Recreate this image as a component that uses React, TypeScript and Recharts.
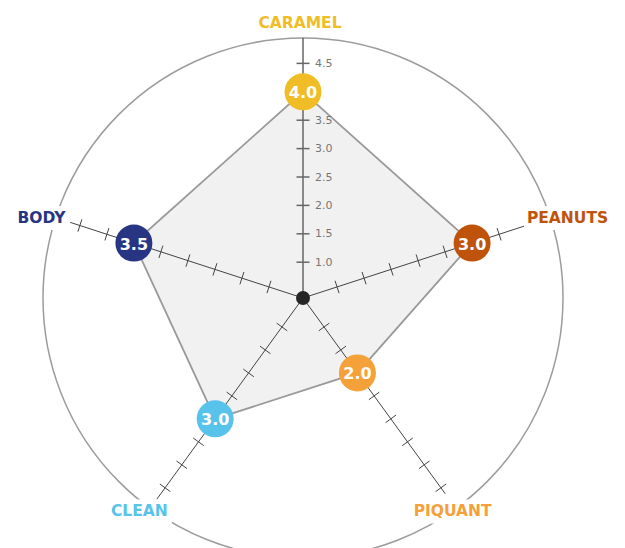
import React from "react";
import {
  RadarChart,
  Radar,
  PolarGrid,
  PolarAngleAxis,
  PolarRadiusAxis,
} from "recharts";

// flavour profile, clockwise from the top
const flavors = ["CARAMEL", "PEANUTS", "PIQUANT", "CLEAN", "BODY"];
const scores = [4.0, 3.5, 2.0, 3.0, 3.5];
const scoreLabels = ["4.0", "3.0", "2.0", "3.0", "3.5"];
const scaleTicks = [1.0, 1.5, 2.0, 2.5, 3.0, 3.5, 4.0, 4.5];

const flavorColors: Record<string, string> = {
  CARAMEL: "#F0BD27",
  PEANUTS: "#C0530B",
  PIQUANT: "#F5A139",
  CLEAN: "#58C3EA",
  BODY: "#283583",
};

const W = 625;
const H = 548;
const CX = 303;
const CY = 298;
const RIM = 260;
// the score scale doesn't start at the hub: 0 sits 21px "behind" the centre
const INNER = -21;
const OUTER = 263;
const DOMAIN: [number, number] = [0, 5];
const HUB = 0.37; // score value at the centre point
// where each spoke stops (score units)
const spokeEnds = [4.95, 4.5, 4.63, 4.75, 4.68];
// small hand nudges for the rim labels
const labelNudge: Record<string, [number, number]> = {
  CARAMEL: [-3, 0],
  PEANUTS: [3, 5],
  PIQUANT: [-12, -9],
  CLEAN: [-2, -9],
  BODY: [0, 5],
};

const FONT = "'DejaVu Sans', sans-serif";
const RAD = Math.PI / 180;

const data = flavors.map((f, i) => ({ flavor: f, score: scores[i], label: scoreLabels[i] }));

function spokeTick(p: any, angle: number, main: boolean, end: number) {
  const v = p.payload?.value;
  const { x, y } = p;
  if (v === HUB) {
    return main ? <circle cx={x} cy={y} r={7} fill="#262626" /> : <g />;
  }
  if (v === end) return <g />;
  const s = Math.sin(angle * RAD) * 6.5;
  const c = Math.cos(angle * RAD) * 6.5;
  // the 4.0 label is hidden under the caramel marker
  const showText = main && v !== scores[0];
  return (
    <g>
      <line
        x1={x - s}
        y1={y - c}
        x2={x + s}
        y2={y + c}
        stroke={main ? "#666" : "#444"}
        strokeWidth={main ? 1.5 : 1}
      />
      {showText && (
        <text
          x={x + 12}
          y={y}
          dominantBaseline="central"
          fontFamily={FONT}
          fontSize={11}
          fill="#777"
        >
          {v.toFixed(1)}
        </text>
      )}
    </g>
  );
}

function RimLabel(p: any) {
  const name: string = p.payload?.value;
  const a: number = p.payload?.coordinate ?? 90;
  const [nx, ny] = labelNudge[name] ?? [0, 0];
  const x = CX + 275 * Math.cos(a * RAD) + nx;
  const y = CY - 275 * Math.sin(a * RAD) + ny;
  const w = name.length * 11 + 10;
  return (
    <g>
      <rect x={x - w / 2} y={y - 12} width={w} height={24} fill="#fff" />
      <text
        x={x}
        y={y}
        textAnchor="middle"
        dominantBaseline="central"
        fontFamily={FONT}
        fontWeight="bold"
        fontSize={15.5}
        fill={flavorColors[name]}
      >
        {name}
      </text>
    </g>
  );
}

function ScoreDot(p: any) {
  const i: number = p.index;
  const name = flavors[i];
  return (
    <g key={`dot-${i}`}>
      <circle cx={p.cx} cy={p.cy} r={18.5} fill={flavorColors[name]} />
      <text
        x={p.cx}
        y={p.cy + 1}
        textAnchor="middle"
        dominantBaseline="central"
        fontFamily={FONT}
        fontWeight="bold"
        fontSize={16}
        fill="#fff"
      >
        {scoreLabels[i]}
      </text>
    </g>
  );
}

export default function App() {
  const spokes = flavors.map((f, i) => ({ id: i === 0 ? 0 : `spoke${i}`, angle: 90 - i * 72, end: spokeEnds[i] }));
  // draw the main (labelled) spoke last so the hub sits on top
  const ordered = [...spokes.slice(1), spokes[0]];
  return (
    <div style={{ position: "absolute", left: 0, top: 0, background: "#fff" }}>
      <RadarChart
        width={W}
        height={H}
        data={data}
        cx={CX}
        cy={CY}
        innerRadius={INNER}
        outerRadius={OUTER}
        margin={{ top: 0, right: 0, bottom: 0, left: 0 }}
      >
        <PolarGrid
          gridType="circle"
          radialLines={false}
          polarRadius={[RIM]}
          stroke="#9c9c9c"
          strokeWidth={1.5}
        />
        <Radar
          dataKey="score"
          stroke="#999"
          strokeWidth={1.8}
          fill="#f1f1f1"
          fillOpacity={1}
          dot={false}
          isAnimationActive={false}
        />
        {ordered.map((s) => (
          <PolarRadiusAxis
            key={String(s.id)}
            radiusAxisId={s.id}
            angle={s.angle}
            type="number"
            domain={DOMAIN}
            allowDataOverflow
            ticks={[HUB, ...scaleTicks, s.end] as any}
            stroke={s.id === 0 ? "#666" : "#444"}
            axisLine={{ strokeWidth: s.id === 0 ? 1.5 : 1 }}
            tick={(p: any) => spokeTick(p, s.angle, s.id === 0, s.end)}
          />
        ))}
        <PolarAngleAxis
          dataKey="flavor"
          tickLine={false}
          axisLine={false}
          tick={<RimLabel />}
        />
        <Radar
          dataKey="score"
          stroke="none"
          fill="none"
          dot={(p: any) => <ScoreDot {...p} />}
          isAnimationActive={false}
          {...({ zIndex: 1000 } as any)}
        />
      </RadarChart>
    </div>
  );
}
